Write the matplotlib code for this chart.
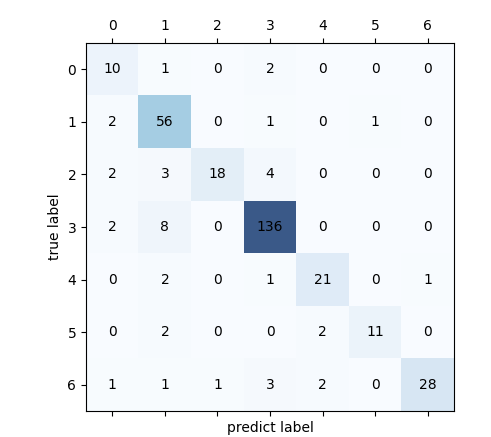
import numpy as np
import matplotlib.pyplot as plt

# confusion matrix values (rows = true label, cols = predicted label)
labels = [0, 1, 2, 3, 4, 5, 6]
confmat = np.array([
    [10, 1, 0, 2, 0, 0, 0],
    [2, 56, 0, 1, 0, 1, 0],
    [2, 3, 18, 4, 0, 0, 0],
    [2, 8, 0, 136, 0, 0, 0],
    [0, 2, 0, 1, 21, 0, 1],
    [0, 2, 0, 0, 2, 11, 0],
    [1, 1, 1, 3, 2, 0, 28],
])

fig = plt.figure(figsize=(4.91, 4.37), dpi=100)
ax = fig.add_axes([0.173, 0.0595, 0.754, 0.842])
ax.matshow(confmat, cmap=plt.cm.Blues, alpha=0.8)

for i in range(confmat.shape[0]):
    for j in range(confmat.shape[1]):
        ax.text(x=j, y=i, s=confmat[i, j], va='center', ha='center')

ax.set_xticks(range(len(labels)))
ax.set_yticks(range(len(labels)))
ax.set_xticklabels(labels)
ax.set_yticklabels(labels)
plt.xlabel('predict label')
plt.ylabel('true label')
plt.savefig('out.png', dpi=100)
